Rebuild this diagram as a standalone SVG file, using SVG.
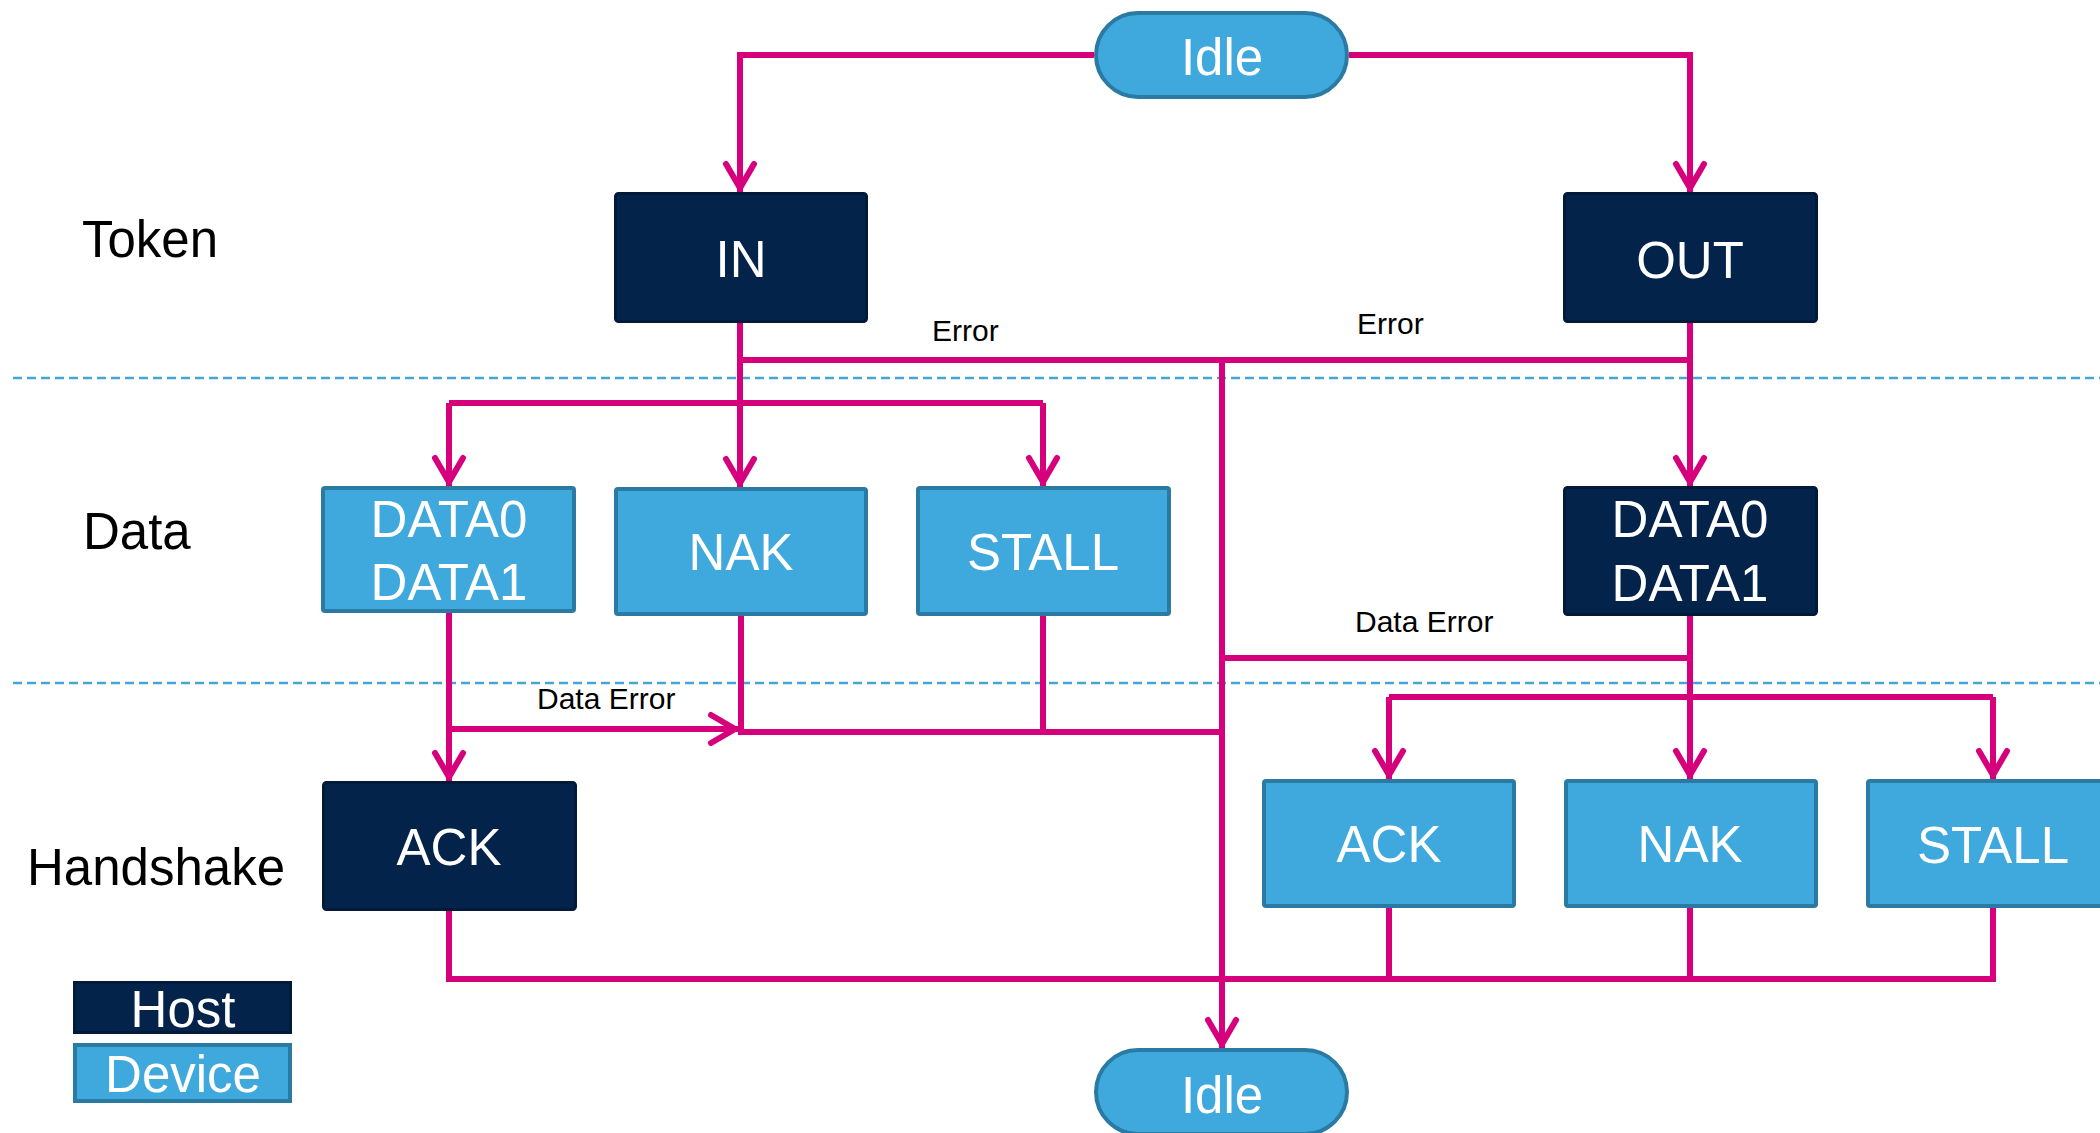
<svg xmlns="http://www.w3.org/2000/svg" width="2100" height="1133" viewBox="0 0 2100 1133">
  <style>
    .host { fill: #03234b; stroke: #021a3a; stroke-width: 3; }
    .dev { fill: #3fa9dd; stroke: #2a7aa3; stroke-width: 4; }
    .lbl { font-family: "Liberation Sans", Arial, sans-serif; font-size: 51px; fill: #ffffff; text-anchor: middle; }
    .row { font-family: "Liberation Sans", Arial, sans-serif; font-size: 51px; fill: #000000; }
    .note { font-family: "Liberation Sans", Arial, sans-serif; font-size: 30px; fill: #000000; }
    .wire { fill: none; stroke: #d6007d; stroke-width: 6; }
    .arrow { marker-end: url(#chevron); }
    .sep { fill: none; stroke: #45a6d6; stroke-width: 2.5; stroke-dasharray: 9 5; }
  </style>
  <defs>
    <marker id="chevron" markerUnits="userSpaceOnUse" orient="auto" refX="0" refY="0" markerWidth="40" markerHeight="40" overflow="visible">
      <path d="M -28 -14 L -4 0 L -28 14" fill="none" stroke="#d6007d" stroke-width="6" stroke-linecap="round"/>
    </marker>
  </defs>

  <rect width="2100" height="1133" fill="#ffffff"/>

  <!-- lane separators -->
  <g id="separators">
    <path class="sep" d="M13,378 H2100"/>
    <path class="sep" d="M13,683 H2100"/>
  </g>

  <!-- lane titles -->
  <g id="lane-titles">
    <text class="row" x="82" y="257">Token</text>
    <text class="row" x="83" y="549">Data</text>
    <text class="row" x="27" y="885">Handshake</text>
  </g>

  <!-- connectors -->
  <g id="connectors">
    <path class="wire arrow" d="M1094,55 H740 V192"/>
    <path class="wire arrow" d="M1349,55 H1690 V192"/>

    <path class="wire arrow" d="M740,323 V487"/>
    <path class="wire" d="M449,403 H1043"/>
    <path class="wire arrow" d="M449,403 V486"/>
    <path class="wire arrow" d="M1043,403 V486"/>

    <path class="wire" d="M740,360 H1690"/>
    <path class="wire arrow" d="M1222,360 V1048"/>

    <path class="wire arrow" d="M1690,323 V486"/>
    <path class="wire arrow" d="M1690,616 V779"/>
    <path class="wire" d="M1690,658 H1222"/>
    <path class="wire" d="M1389,697 H1993"/>
    <path class="wire arrow" d="M1389,697 V779"/>
    <path class="wire arrow" d="M1993,697 V779"/>

    <path class="wire arrow" d="M449,613 V781"/>
    <path class="wire arrow" d="M449,729 H739"/>
    <path class="wire" d="M741,616 V732 H1222"/>
    <path class="wire" d="M1043,616 V732"/>

    <path class="wire" d="M449,911 V979 H1993 V908"/>
    <path class="wire" d="M1389,908 V979"/>
    <path class="wire" d="M1690,908 V979"/>
  </g>

  <!-- connector labels -->
  <g id="connector-labels">
    <text class="note" x="932" y="341">Error</text>
    <text class="note" x="1357" y="334">Error</text>
    <text class="note" x="537" y="709">Data Error</text>
    <text class="note" x="1355" y="632">Data Error</text>
  </g>

  <!-- nodes -->
  <g id="idle-top">
    <rect class="dev" x="1096" y="13" width="251" height="84" rx="42"/>
    <text class="lbl" x="1222" y="75">Idle</text>
  </g>
  <g id="token-in">
    <rect class="host" x="615.5" y="193.5" width="251" height="128" rx="3"/>
    <text class="lbl" x="741" y="277">IN</text>
  </g>
  <g id="token-out">
    <rect class="host" x="1564.5" y="193.5" width="252" height="128" rx="3"/>
    <text class="lbl" x="1690" y="278">OUT</text>
  </g>
  <g id="in-data">
    <rect class="dev" x="323" y="488" width="251" height="123" rx="2"/>
    <text class="lbl" x="449" y="537">DATA0</text>
    <text class="lbl" x="449" y="600">DATA1</text>
  </g>
  <g id="in-nak">
    <rect class="dev" x="616" y="489" width="250" height="125" rx="2"/>
    <text class="lbl" x="741" y="570">NAK</text>
  </g>
  <g id="in-stall">
    <rect class="dev" x="918" y="488" width="251" height="126" rx="2"/>
    <text class="lbl" x="1043" y="570">STALL</text>
  </g>
  <g id="out-data">
    <rect class="host" x="1564.5" y="487.5" width="252" height="127" rx="3"/>
    <text class="lbl" x="1690" y="537">DATA0</text>
    <text class="lbl" x="1690" y="601">DATA1</text>
  </g>
  <g id="in-ack">
    <rect class="host" x="323.5" y="782.5" width="252" height="127" rx="3"/>
    <text class="lbl" x="449" y="865">ACK</text>
  </g>
  <g id="out-ack">
    <rect class="dev" x="1264" y="781" width="250" height="125" rx="2"/>
    <text class="lbl" x="1389" y="862">ACK</text>
  </g>
  <g id="out-nak">
    <rect class="dev" x="1566" y="781" width="250" height="125" rx="2"/>
    <text class="lbl" x="1690" y="862">NAK</text>
  </g>
  <g id="out-stall">
    <rect class="dev" x="1868" y="781" width="251" height="125" rx="2"/>
    <text class="lbl" x="1993" y="863">STALL</text>
  </g>
  <g id="idle-bottom">
    <rect class="dev" x="1096" y="1050" width="251" height="84" rx="42"/>
    <text class="lbl" x="1222" y="1113">Idle</text>
  </g>

  <!-- legend -->
  <g id="legend-host">
    <rect class="host" x="74.5" y="982.5" width="216" height="50"/>
    <text class="lbl" x="183" y="1027">Host</text>
  </g>
  <g id="legend-device">
    <rect class="dev" x="75" y="1045" width="215" height="56"/>
    <text class="lbl" x="183" y="1092">Device</text>
  </g>
</svg>
